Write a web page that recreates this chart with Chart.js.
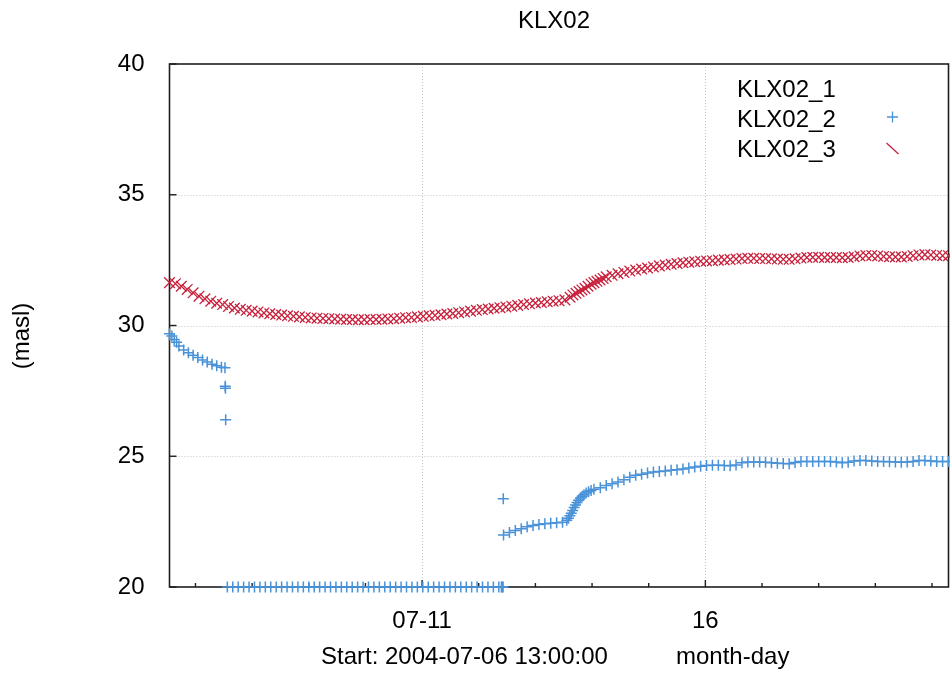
<!DOCTYPE html>
<html>
<head>
<meta charset="utf-8">
<title>KLX02</title>
<script src="https://cdn.jsdelivr.net/npm/chart.js@4.4.1/dist/chart.umd.min.js"></script>
<style>
  html, body { margin: 0; padding: 0; background: #ffffff; }
  #wrap { width: 950px; height: 684px; }
</style>
</head>
<body>
<div id="wrap"><canvas id="chart" width="950" height="684"></canvas></div>
<script>
// ---- texts ----
const TITLE = 'KLX02';
const Y_LABEL = '(masl)';
const X_CAPTION_LEFT = 'Start: 2004-07-06 13:00:00';
const X_CAPTION_RIGHT = 'month-day';
const SERIES_NAMES = ['KLX02_1', 'KLX02_2', 'KLX02_3'];

// ---- axes (x = hours elapsed since 2004-07-06 13:00) ----
const X_RANGE = [0, 330];
const DAY_TICK_HOURS = [11, 35, 59, 83, 107, 131, 155, 179, 203, 227, 251, 275, 299, 323];
const LABELLED_TICK_HOURS = [107, 227];
const LABELLED_TICK_TEXT = ['07-11', '16'];
const Y_RANGE = [20, 40];
const Y_TICK_STEP = 5;

// ---- KLX02_2 (masl) ----
const k2FallHours = [0, 1, 2, 3, 4, 6, 8, 10, 12, 14, 16, 18, 20, 22, 23.5, 23.6, 23.7, 23.8];
const k2FallValues = [29.68, 29.60, 29.46, 29.36, 29.22, 29.06, 28.96, 28.86, 28.78, 28.68, 28.60, 28.52,
  28.46, 28.40, 28.38, 27.68, 27.60, 26.40];

const k2LowStart = 24.5, k2LowStep = 2.3;
const k2LowValues = [20, 20, 20, 20, 20, 20, 20, 20, 20, 20, 20, 20, 20, 20, 20, 20, 20,
  20, 20, 20, 20, 20, 20, 20, 20, 20, 20, 20, 20, 20, 20, 20, 20, 20,
  20, 20, 20, 20, 20, 20, 20, 20, 20, 20, 20, 20, 20, 20, 20, 20, 20];
const k2LowEndHours = [140.6, 141.0, 141.3];
const k2LowEndValues = [20, 20, 20];

const k2SpikeHours = [141.4];
const k2SpikeValues = [23.37];

const k2RiseStart = 141.5, k2RiseStep = 2.5;
const k2RiseValues = [21.99, 22.08, 22.16, 22.23, 22.30, 22.35, 22.39, 22.42, 22.44, 22.46, 22.48];

const k2JumpHours = [168.3, 169, 169.6, 170.2, 170.8, 171.4, 172, 172.6, 173.3, 174, 174.8, 175.6,
  176.5, 177.5, 178.6, 179.8];
const k2JumpValues = [22.55, 22.63, 22.72, 22.82, 22.93, 23.04, 23.14, 23.23, 23.32, 23.40, 23.47, 23.53,
  23.59, 23.64, 23.69, 23.74];

const k2TailStart = 182.5, k2TailStep = 2.5;
const k2TailValues = [23.80, 23.88, 23.95, 24.02, 24.10, 24.20, 24.27, 24.31, 24.36, 24.40, 24.42, 24.44,
  24.46, 24.48, 24.51, 24.55, 24.59, 24.62, 24.65, 24.66, 24.66, 24.65, 24.64, 24.67,
  24.75, 24.78, 24.78, 24.78, 24.77, 24.75, 24.73, 24.72, 24.71, 24.76, 24.80, 24.80,
  24.80, 24.80, 24.80, 24.80, 24.78, 24.75, 24.77, 24.82, 24.84, 24.84, 24.82, 24.80,
  24.80, 24.79, 24.78, 24.77, 24.78, 24.80, 24.84, 24.84, 24.82, 24.80, 24.80, 24.80];

// ---- KLX02_3 (masl) ----
const k3HeadStart = 0, k3HeadStep = 2.5;
const k3HeadValues = [31.64, 31.60, 31.50, 31.38, 31.25, 31.12, 31.02, 30.93, 30.85, 30.80, 30.73, 30.67,
  30.62, 30.58, 30.55, 30.52, 30.48, 30.45, 30.42, 30.40, 30.37, 30.35, 30.33, 30.31,
  30.29, 30.28, 30.27, 30.26, 30.25, 30.24, 30.23, 30.23, 30.22, 30.22, 30.23, 30.23,
  30.24, 30.25, 30.26, 30.28, 30.30, 30.31, 30.33, 30.35, 30.37, 30.39, 30.41, 30.44,
  30.46, 30.49, 30.52, 30.55, 30.58, 30.61, 30.63, 30.66, 30.68, 30.71, 30.74, 30.77,
  30.80, 30.83, 30.86, 30.88, 30.91, 30.93, 30.95, 30.98];

const k3JumpHours = [169.7, 170.9, 172.2, 173.5, 174.7, 176, 177.3, 178.6, 179.8, 181.1, 182.4, 183.7];
const k3JumpValues = [31.08, 31.17, 31.23, 31.30, 31.36, 31.42, 31.50, 31.58, 31.64, 31.69, 31.74, 31.80];

const k3TailStart = 185, k3TailStep = 2.5;
const k3TailValues = [31.86, 31.92, 31.98, 32.03, 32.08, 32.12, 32.16, 32.20, 32.24, 32.28, 32.31, 32.34,
  32.37, 32.40, 32.42, 32.44, 32.46, 32.47, 32.48, 32.50, 32.51, 32.52, 32.54, 32.56,
  32.57, 32.57, 32.56, 32.56, 32.55, 32.54, 32.53, 32.53, 32.55, 32.58, 32.60, 32.61,
  32.61, 32.60, 32.60, 32.60, 32.59, 32.60, 32.63, 32.66, 32.68, 32.68, 32.66, 32.64,
  32.63, 32.62, 32.62, 32.64, 32.67, 32.70, 32.71, 32.70, 32.68, 32.67, 32.67];

// ---- helpers that turn the readings into {x, y} points ----
function sampled(start, step, values) {
  return values.map((v, i) => ({ x: start + i * step, y: v }));
}
function paired(hours, values) {
  return values.map((v, i) => ({ x: hours[i], y: v }));
}

const k2Points = [].concat(
  paired(k2FallHours, k2FallValues),
  sampled(k2LowStart, k2LowStep, k2LowValues),
  paired(k2LowEndHours, k2LowEndValues),
  paired(k2SpikeHours, k2SpikeValues),
  sampled(k2RiseStart, k2RiseStep, k2RiseValues),
  paired(k2JumpHours, k2JumpValues),
  sampled(k2TailStart, k2TailStep, k2TailValues)
);
const k3Points = [].concat(
  sampled(k3HeadStart, k3HeadStep, k3HeadValues),
  paired(k3JumpHours, k3JumpValues),
  sampled(k3TailStart, k3TailStep, k3TailValues)
);

// ---- styling ----
const FONT = "'Liberation Sans', Arial, Helvetica, sans-serif";
const BLUE = '#4a92d8';
const RED = '#c8203c';

// grid, frame and inward tick marks
const framePlugin = {
  id: 'frame',
  beforeDatasetsDraw(chart) {
    const { ctx, chartArea: a, scales: { x, y } } = chart;
    ctx.save();
    // dotted grid at the labelled positions
    ctx.strokeStyle = '#c4c4c4';
    ctx.lineWidth = 1;
    ctx.setLineDash([1, 2]);
    y.ticks.forEach(t => {
      if (t.value <= Y_RANGE[0] || t.value >= Y_RANGE[1]) return;
      const py = Math.round(y.getPixelForValue(t.value)) + 0.5;
      ctx.beginPath(); ctx.moveTo(a.left, py); ctx.lineTo(a.right, py); ctx.stroke();
    });
    LABELLED_TICK_HOURS.forEach(h => {
      const px = Math.round(x.getPixelForValue(h)) + 0.5;
      ctx.beginPath(); ctx.moveTo(px, a.top); ctx.lineTo(px, a.bottom); ctx.stroke();
    });
    ctx.setLineDash([]);
    // frame
    ctx.strokeStyle = '#1e1e1e';
    ctx.lineWidth = 1.6;
    ctx.strokeRect(a.left, a.top, a.right - a.left, a.bottom - a.top);
    // tick marks pointing into the plot
    ctx.lineWidth = 1.4;
    y.ticks.forEach(t => {
      const py = y.getPixelForValue(t.value);
      ctx.beginPath(); ctx.moveTo(a.left, py); ctx.lineTo(a.left + 7, py); ctx.stroke();
    });
    DAY_TICK_HOURS.forEach(h => {
      const px = x.getPixelForValue(h);
      const len = LABELLED_TICK_HOURS.includes(h) ? 7 : 4;
      ctx.beginPath(); ctx.moveTo(px, a.bottom); ctx.lineTo(px, a.bottom - len); ctx.stroke();
    });
    ctx.restore();
  }
};

// title, axis captions and key
const textPlugin = {
  id: 'texts',
  afterDraw(chart) {
    const { ctx } = chart;
    ctx.save();
    ctx.fillStyle = '#000000';
    ctx.font = '24px ' + FONT;
    ctx.textBaseline = 'alphabetic';

    ctx.textAlign = 'center';
    ctx.fillText(TITLE, 554, 27.5);

    ctx.textAlign = 'left';
    ctx.fillText(X_CAPTION_LEFT, 321, 663.5);
    ctx.fillText(X_CAPTION_RIGHT, 676, 663.5);

    ctx.save();
    ctx.translate(28.5, 336);
    ctx.rotate(-Math.PI / 2);
    ctx.textAlign = 'center';
    ctx.fillText(Y_LABEL, 0, 0);
    ctx.restore();

    // key
    const names = chart.data.datasets.map(d => d.label);
    const baseY = [96.5, 126.5, 156.5];
    ctx.textAlign = 'left';
    names.forEach((n, i) => ctx.fillText(n, 737, baseY[i]));
    ctx.lineWidth = 1.3;
    ctx.strokeStyle = BLUE;
    ctx.beginPath();
    ctx.moveTo(887, 117); ctx.lineTo(898, 117);
    ctx.moveTo(892.5, 111.5); ctx.lineTo(892.5, 122.5);
    ctx.stroke();
    ctx.strokeStyle = RED;
    ctx.beginPath();
    ctx.moveTo(886.5, 143); ctx.lineTo(898.5, 154);
    ctx.stroke();
    ctx.restore();
  }
};

new Chart(document.getElementById('chart'), {
  type: 'scatter',
  data: {
    datasets: [
      { label: SERIES_NAMES[0], data: [], pointRadius: 0, clip: false },
      {
        label: SERIES_NAMES[1], data: k2Points, clip: false, showLine: false,
        pointStyle: 'cross', pointRadius: 5.5, pointBorderWidth: 1.5,
        pointBorderColor: BLUE, pointBackgroundColor: BLUE, borderColor: BLUE
      },
      {
        label: SERIES_NAMES[2], data: k3Points, clip: false, showLine: false,
        pointStyle: 'crossRot', pointRadius: 7.5, pointBorderWidth: 1.3,
        pointBorderColor: RED, pointBackgroundColor: RED, borderColor: RED
      }
    ]
  },
  options: {
    responsive: false,
    animation: false,
    devicePixelRatio: 1,
    layout: { autoPadding: false, padding: { left: 0, right: 1.5, top: 64, bottom: 0 } },
    plugins: {
      legend: { display: false },
      title: { display: false },
      tooltip: { enabled: false }
    },
    events: [],
    scales: {
      x: {
        type: 'linear',
        min: X_RANGE[0],
        max: X_RANGE[1],
        afterBuildTicks: s => { s.ticks = DAY_TICK_HOURS.map(v => ({ value: v })); },
        afterFit: s => { s.height = 97; s.paddingLeft = 0; s.paddingRight = 0; },
        grid: { display: false, drawTicks: false },
        border: { display: false },
        ticks: {
          autoSkip: false,
          maxRotation: 0,
          padding: 20,
          color: '#000000',
          font: { family: FONT, size: 24 },
          callback: v => {
            const i = LABELLED_TICK_HOURS.indexOf(v);
            return i >= 0 ? LABELLED_TICK_TEXT[i] : '';
          }
        }
      },
      y: {
        type: 'linear',
        min: Y_RANGE[0],
        max: Y_RANGE[1],
        afterFit: s => { s.width = 169.5; s.paddingTop = 0; s.paddingBottom = 0; },
        grid: { display: false, drawTicks: false },
        border: { display: false },
        ticks: {
          stepSize: Y_TICK_STEP,
          padding: 25,
          color: '#000000',
          font: { family: FONT, size: 24 }
        }
      }
    }
  },
  plugins: [framePlugin, textPlugin]
});
</script>
</body>
</html>
